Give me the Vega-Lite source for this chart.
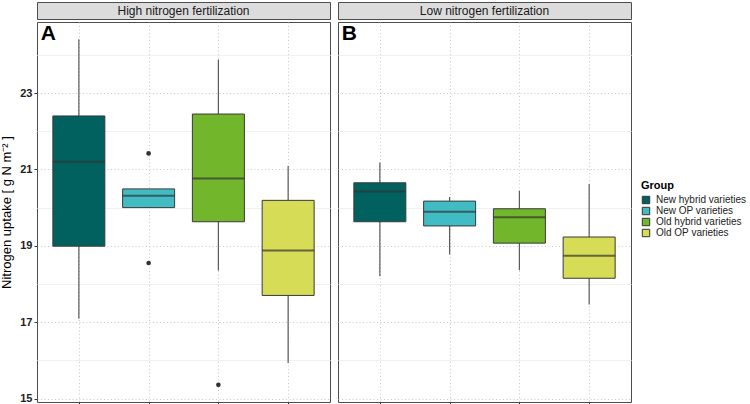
{
  "$schema": "https://vega.github.io/schema/vega-lite/v6.json",
  "padding": {"top": 1, "left": 0, "right": 0, "bottom": 0},
  "background": "white",
  "datasets": {
    "stats": [
      {"panel": "High", "group": "New hybrid varieties", "lower": 17.09, "q1": 18.99, "median": 21.2, "q3": 22.4, "upper": 24.41},
      {"panel": "High", "group": "New OP varieties", "lower": 20.0, "q1": 20.0, "median": 20.31, "q3": 20.49, "upper": 20.49},
      {"panel": "High", "group": "Old hybrid varieties", "lower": 18.35, "q1": 19.63, "median": 20.76, "q3": 22.45, "upper": 23.88},
      {"panel": "High", "group": "Old OP varieties", "lower": 15.93, "q1": 17.7, "median": 18.88, "q3": 20.19, "upper": 21.09},
      {"panel": "Low", "group": "New hybrid varieties", "lower": 18.2, "q1": 19.63, "median": 20.42, "q3": 20.65, "upper": 21.18},
      {"panel": "Low", "group": "New OP varieties", "lower": 18.77, "q1": 19.52, "median": 19.89, "q3": 20.17, "upper": 20.28},
      {"panel": "Low", "group": "Old hybrid varieties", "lower": 18.36, "q1": 19.07, "median": 19.75, "q3": 19.97, "upper": 20.44},
      {"panel": "Low", "group": "Old OP varieties", "lower": 17.46, "q1": 18.15, "median": 18.74, "q3": 19.23, "upper": 20.62}
    ],
    "outliers": [
      {"panel": "High", "group": "New OP varieties", "value": 21.42},
      {"panel": "High", "group": "New OP varieties", "value": 18.55},
      {"panel": "High", "group": "Old hybrid varieties", "value": 15.36}
    ]
  },
  "config": {
    "font": "Liberation Sans",
    "view": {"stroke": "#4d4d4d", "strokeWidth": 1},
    "concat": {"spacing": 6},
    "axis": {"labelFont": "Liberation Sans", "titleFont": "Liberation Sans"}
  },
  "hconcat": [
    {
      "spacing": 1,
      "vconcat": [
        {
          "width": 293, "height": 17,
          "view": {"fill": "#dcdcdc", "stroke": "#4d4d4d"},
          "data": {"values": [{"label": "High nitrogen fertilization"}]},
          "mark": {"type": "text", "fontSize": 12, "color": "#1a1a1a", "font": "Liberation Sans"},
          "encoding": {"text": {"field": "label"}}
        },
        {
          "width": 293, "height": 380,
          "resolve": {"axis": {"y": "independent"}},
          "layer": [
            {
              "data": {"name": "stats"},
              "transform": [{"filter": "datum.panel === 'High'"}],
              "mark": {"type": "rule", "color": "#5a5a5a", "strokeWidth": 1.2},
              "encoding": {
                "x": {"field": "group", "type": "nominal", "scale": {"type": "point", "padding": 0.6, "domain": ["New hybrid varieties", "New OP varieties", "Old hybrid varieties", "Old OP varieties"]}, "axis": {"labels": false, "title": null, "domain": false, "ticks": true, "tickSize": 4, "tickColor": "#333", "grid": true, "gridDash": [1, 2.5], "gridColor": "#c8c8c8"}},
                "y": {"field": "lower", "type": "quantitative", "scale": {"domain": [14.91, 24.86], "nice": false, "zero": false},
                  "axis": {"orient": "left", "values": [16, 18, 20, 22, 24], "labels": false, "ticks": false, "domain": false, "title": null, "grid": true, "gridColor": "#f0f0f0", "gridDash": []}},
                "y2": {"field": "upper"}
              }
            },
            {
              "data": {"name": "stats"},
              "transform": [{"filter": "datum.panel === 'High'"}],
              "mark": {"type": "bar", "size": 52, "stroke": "#3a3a3a", "strokeWidth": 1, "opacity": 1},
              "encoding": {
                "x": {"field": "group", "type": "nominal"},
                "y": {"field": "q1", "type": "quantitative",
                  "axis": {"orient": "left", "values": [15, 17, 19, 21, 23], "title": "Nitrogen uptake  [ g N m⁻² ]", "titleFontSize": 13, "titleFontWeight": "normal", "titleColor": "#000", "titlePadding": 6,
                    "labelFontSize": 11, "labelFontWeight": "bold", "labelColor": "#222", "tickSize": 3, "tickColor": "#333", "domain": false, "grid": true, "gridDash": [1, 2.5], "gridColor": "#c8c8c8"}},
                "y2": {"field": "q3"},
                "fill": {"field": "group", "type": "nominal", "title": "Group",
                  "scale": {"domain": ["New hybrid varieties", "New OP varieties", "Old hybrid varieties", "Old OP varieties"], "range": ["#00615f", "#41bbc4", "#72b62c", "#d6dc55"]},
                  "legend": {"orient": "none", "legendX": 604, "legendY": 178, "titleFontSize": 11, "titleFontWeight": "bold", "titleColor": "#000", "labelFontSize": 10, "labelColor": "#222", "labelOffset": 5, "symbolType": "square", "symbolSize": 55, "symbolStrokeColor": "#333", "symbolStrokeWidth": 1, "rowPadding": -2, "titlePadding": 4}}
              }
            },
            {
              "data": {"name": "stats"},
              "transform": [{"filter": "datum.panel === 'High'"}],
              "mark": {"type": "tick", "size": 52, "thickness": 2, "color": "#333"},
              "encoding": {
                "x": {"field": "group", "type": "nominal"},
                "y": {"field": "median", "type": "quantitative", "axis": null}
              }
            },
            {
              "data": {"name": "outliers"},
              "transform": [{"filter": "datum.panel === 'High'"}],
              "mark": {"type": "circle", "size": 22, "color": "#333", "opacity": 1},
              "encoding": {
                "x": {"field": "group", "type": "nominal"},
                "y": {"field": "value", "type": "quantitative", "axis": null}
              }
            },
            {
              "data": {"values": [{"label": "A"}]},
              "mark": {"type": "text", "fontSize": 21, "fontWeight": "bold", "align": "left", "baseline": "middle", "dx": -38, "color": "#000"},
              "encoding": {
                "text": {"field": "label"},
                "x": {"datum": "New hybrid varieties"},
                "y": {"datum": 24.55, "axis": null}
              }
            }
          ]
        }
      ]
    },
    {
      "spacing": 1,
      "vconcat": [
        {
          "width": 293, "height": 17,
          "view": {"fill": "#dcdcdc", "stroke": "#4d4d4d"},
          "data": {"values": [{"label": "Low nitrogen fertilization"}]},
          "mark": {"type": "text", "fontSize": 12, "color": "#1a1a1a", "font": "Liberation Sans"},
          "encoding": {"text": {"field": "label"}}
        },
        {
          "width": 293, "height": 380,
          "resolve": {"axis": {"y": "independent"}},
          "layer": [
            {
              "data": {"name": "stats"},
              "transform": [{"filter": "datum.panel === 'Low'"}],
              "mark": {"type": "rule", "color": "#5a5a5a", "strokeWidth": 1.2},
              "encoding": {
                "x": {"field": "group", "type": "nominal", "scale": {"type": "point", "padding": 0.6, "domain": ["New hybrid varieties", "New OP varieties", "Old hybrid varieties", "Old OP varieties"]}, "axis": {"labels": false, "title": null, "domain": false, "ticks": true, "tickSize": 4, "tickColor": "#333", "grid": true, "gridDash": [1, 2.5], "gridColor": "#c8c8c8"}},
                "y": {"field": "lower", "type": "quantitative", "scale": {"domain": [14.91, 24.86], "nice": false, "zero": false},
                  "axis": {"orient": "left", "values": [16, 18, 20, 22, 24], "labels": false, "ticks": false, "domain": false, "title": null, "grid": true, "gridColor": "#f0f0f0", "gridDash": []}},
                "y2": {"field": "upper"}
              }
            },
            {
              "data": {"name": "stats"},
              "transform": [{"filter": "datum.panel === 'Low'"}],
              "mark": {"type": "bar", "size": 52, "stroke": "#3a3a3a", "strokeWidth": 1, "opacity": 1},
              "encoding": {
                "x": {"field": "group", "type": "nominal"},
                "y": {"field": "q1", "type": "quantitative",
                  "axis": {"orient": "left", "values": [15, 17, 19, 21, 23], "title": null, "labels": false, "ticks": false, "domain": false, "grid": true, "gridDash": [1, 2.5], "gridColor": "#c8c8c8"}},
                "y2": {"field": "q3"},
                "fill": {"field": "group", "type": "nominal", "title": "Group"}
              }
            },
            {
              "data": {"name": "stats"},
              "transform": [{"filter": "datum.panel === 'Low'"}],
              "mark": {"type": "tick", "size": 52, "thickness": 2, "color": "#333"},
              "encoding": {
                "x": {"field": "group", "type": "nominal"},
                "y": {"field": "median", "type": "quantitative", "axis": null}
              }
            },
            {
              "data": {"values": [{"label": "B"}]},
              "mark": {"type": "text", "fontSize": 21, "fontWeight": "bold", "align": "left", "baseline": "middle", "dx": -38, "color": "#000"},
              "encoding": {
                "text": {"field": "label"},
                "x": {"datum": "New hybrid varieties"},
                "y": {"datum": 24.55, "axis": null}
              }
            }
          ]
        }
      ]
    }
  ]
}
